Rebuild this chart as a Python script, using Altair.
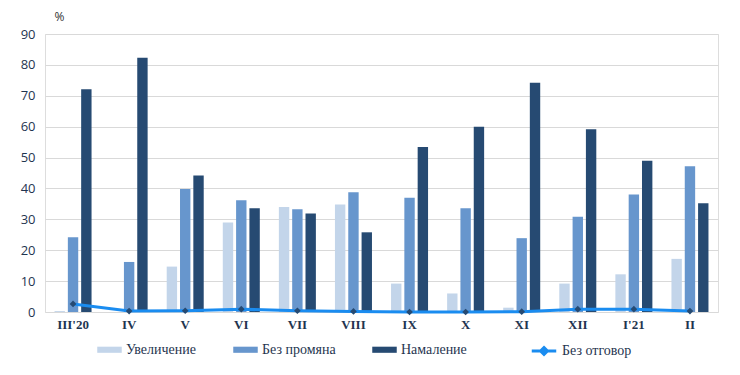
import altair as alt
import pandas as pd

months = ["III'20", "IV", "V", "VI", "VII", "VIII", "IX", "X", "XI", "XII", "I'21", "II"]
increase = [0.3, 0.0, 14.7, 29.0, 34.0, 34.8, 9.2, 6.0, 1.4, 9.2, 12.2, 17.2]
no_change = [24.2, 16.2, 39.8, 36.2, 33.3, 38.8, 37.0, 33.6, 23.9, 30.8, 38.0, 47.2]
decrease = [72.1, 82.3, 44.2, 33.6, 31.9, 25.8, 53.4, 60.0, 74.2, 59.2, 49.0, 35.2]
no_answer = [2.6, 0.3, 0.4, 0.9, 0.4, 0.2, 0.0, 0.0, 0.1, 0.9, 0.9, 0.3]
y_ticks = [0, 10, 20, 30, 40, 50, 60, 70, 80, 90]

series = ["Увеличение", "Без промяна", "Намаление"]
bar_colors = ["#c3d5ea", "#6796cd", "#264a72"]
line_name = "Без отговор"

rows = []
for i, m in enumerate(months):
    for s, vals in zip(series, [increase, no_change, decrease]):
        rows.append({"month": m, "series": s, "value": vals[i]})
bars_df = pd.DataFrame(rows)
line_df = pd.DataFrame({"month": months, "series": [line_name] * len(months), "value": no_answer})

x_scale = alt.Scale(domain=months, paddingInner=0.34, paddingOuter=0.17)
y_scale = alt.Scale(domain=[0, 90], nice=False)

x_axis = alt.Axis(title=None, labelAngle=0, labelFont="Liberation Serif",
                  labelFontSize=13, labelFontWeight="bold", labelColor="#1f3550",
                  labelPadding=6, domain=False, ticks=False, grid=False)
y_axis = alt.Axis(title="%", titleAngle=0, titleX=14, titleY=-18, titleAlign="center",
                  titleBaseline="middle",
                  titleFont="Open Sans", titleFontSize=12, titleFontWeight="normal",
                  titleColor="#333333", values=y_ticks, tickCount=10, labelOverlap=False,
                  labelFont="Open Sans", labelFontSize=13, labelColor="#1f3550",
                  labelPadding=10, domain=False, ticks=False,
                  gridColor="#d9d9d9", gridWidth=1)

rect_path = "M-1,-0.25L1,-0.25L1,0.25L-1,0.25Z"

bars = alt.Chart(bars_df).mark_bar().encode(
    x=alt.X("month:N", scale=x_scale, sort=months, axis=x_axis),
    xOffset=alt.XOffset("series:N", sort=series, scale=alt.Scale(domain=series, paddingInner=0.22)),
    y=alt.Y("value:Q", scale=y_scale, axis=y_axis),
    color=alt.Color("series:N", sort=series,
                    scale=alt.Scale(domain=series, range=bar_colors),
                    legend=alt.Legend(title=None, orient="none", direction="horizontal",
                                      legendX=52, legendY=303, symbolType=rect_path,
                                      symbolSize=600, symbolStrokeWidth=0,
                                      labelFont="Liberation Serif", labelFontSize=14,
                                      labelColor="#1f3550", columnPadding=36, labelOffset=4)),
)

line_symbol = "M-1,0L1,0M0,-0.28L0.28,0L0,0.28L-0.28,0Z"

line = alt.Chart(line_df).mark_line(strokeWidth=3).encode(
    x=alt.X("month:N", scale=x_scale, sort=months, axis=x_axis),
    y=alt.Y("value:Q", scale=y_scale, axis=y_axis),
    color=alt.Color("series:N", scale=alt.Scale(domain=[line_name], range=["#1a8cf0"]),
                    legend=alt.Legend(title=None, orient="none", direction="horizontal",
                                      legendX=485, legendY=303, symbolType=line_symbol,
                                      symbolSize=600, symbolStrokeWidth=3,
                                      symbolFillColor="#264a72", symbolStrokeColor="#1a8cf0",
                                      labelFont="Liberation Serif", labelFontSize=14,
                                      labelColor="#1f3550", labelOffset=4)),
)

points = alt.Chart(line_df).mark_point(shape="diamond", filled=True, size=45, color="#264a72", opacity=1).encode(
    x=alt.X("month:N", scale=x_scale, sort=months, axis=x_axis),
    y=alt.Y("value:Q", scale=y_scale, axis=y_axis),
)

chart = alt.layer(bars, line, points).resolve_scale(color="independent").properties(
    width=673, height=278,
    autosize=alt.AutoSizeParams(type="none"),
    padding={"left": 37, "top": 26, "right": 14, "bottom": 55},
).configure_view(stroke=None).configure(background="white")

chart.save("out.html", embed_options={"renderer": "svg", "actions": False})
